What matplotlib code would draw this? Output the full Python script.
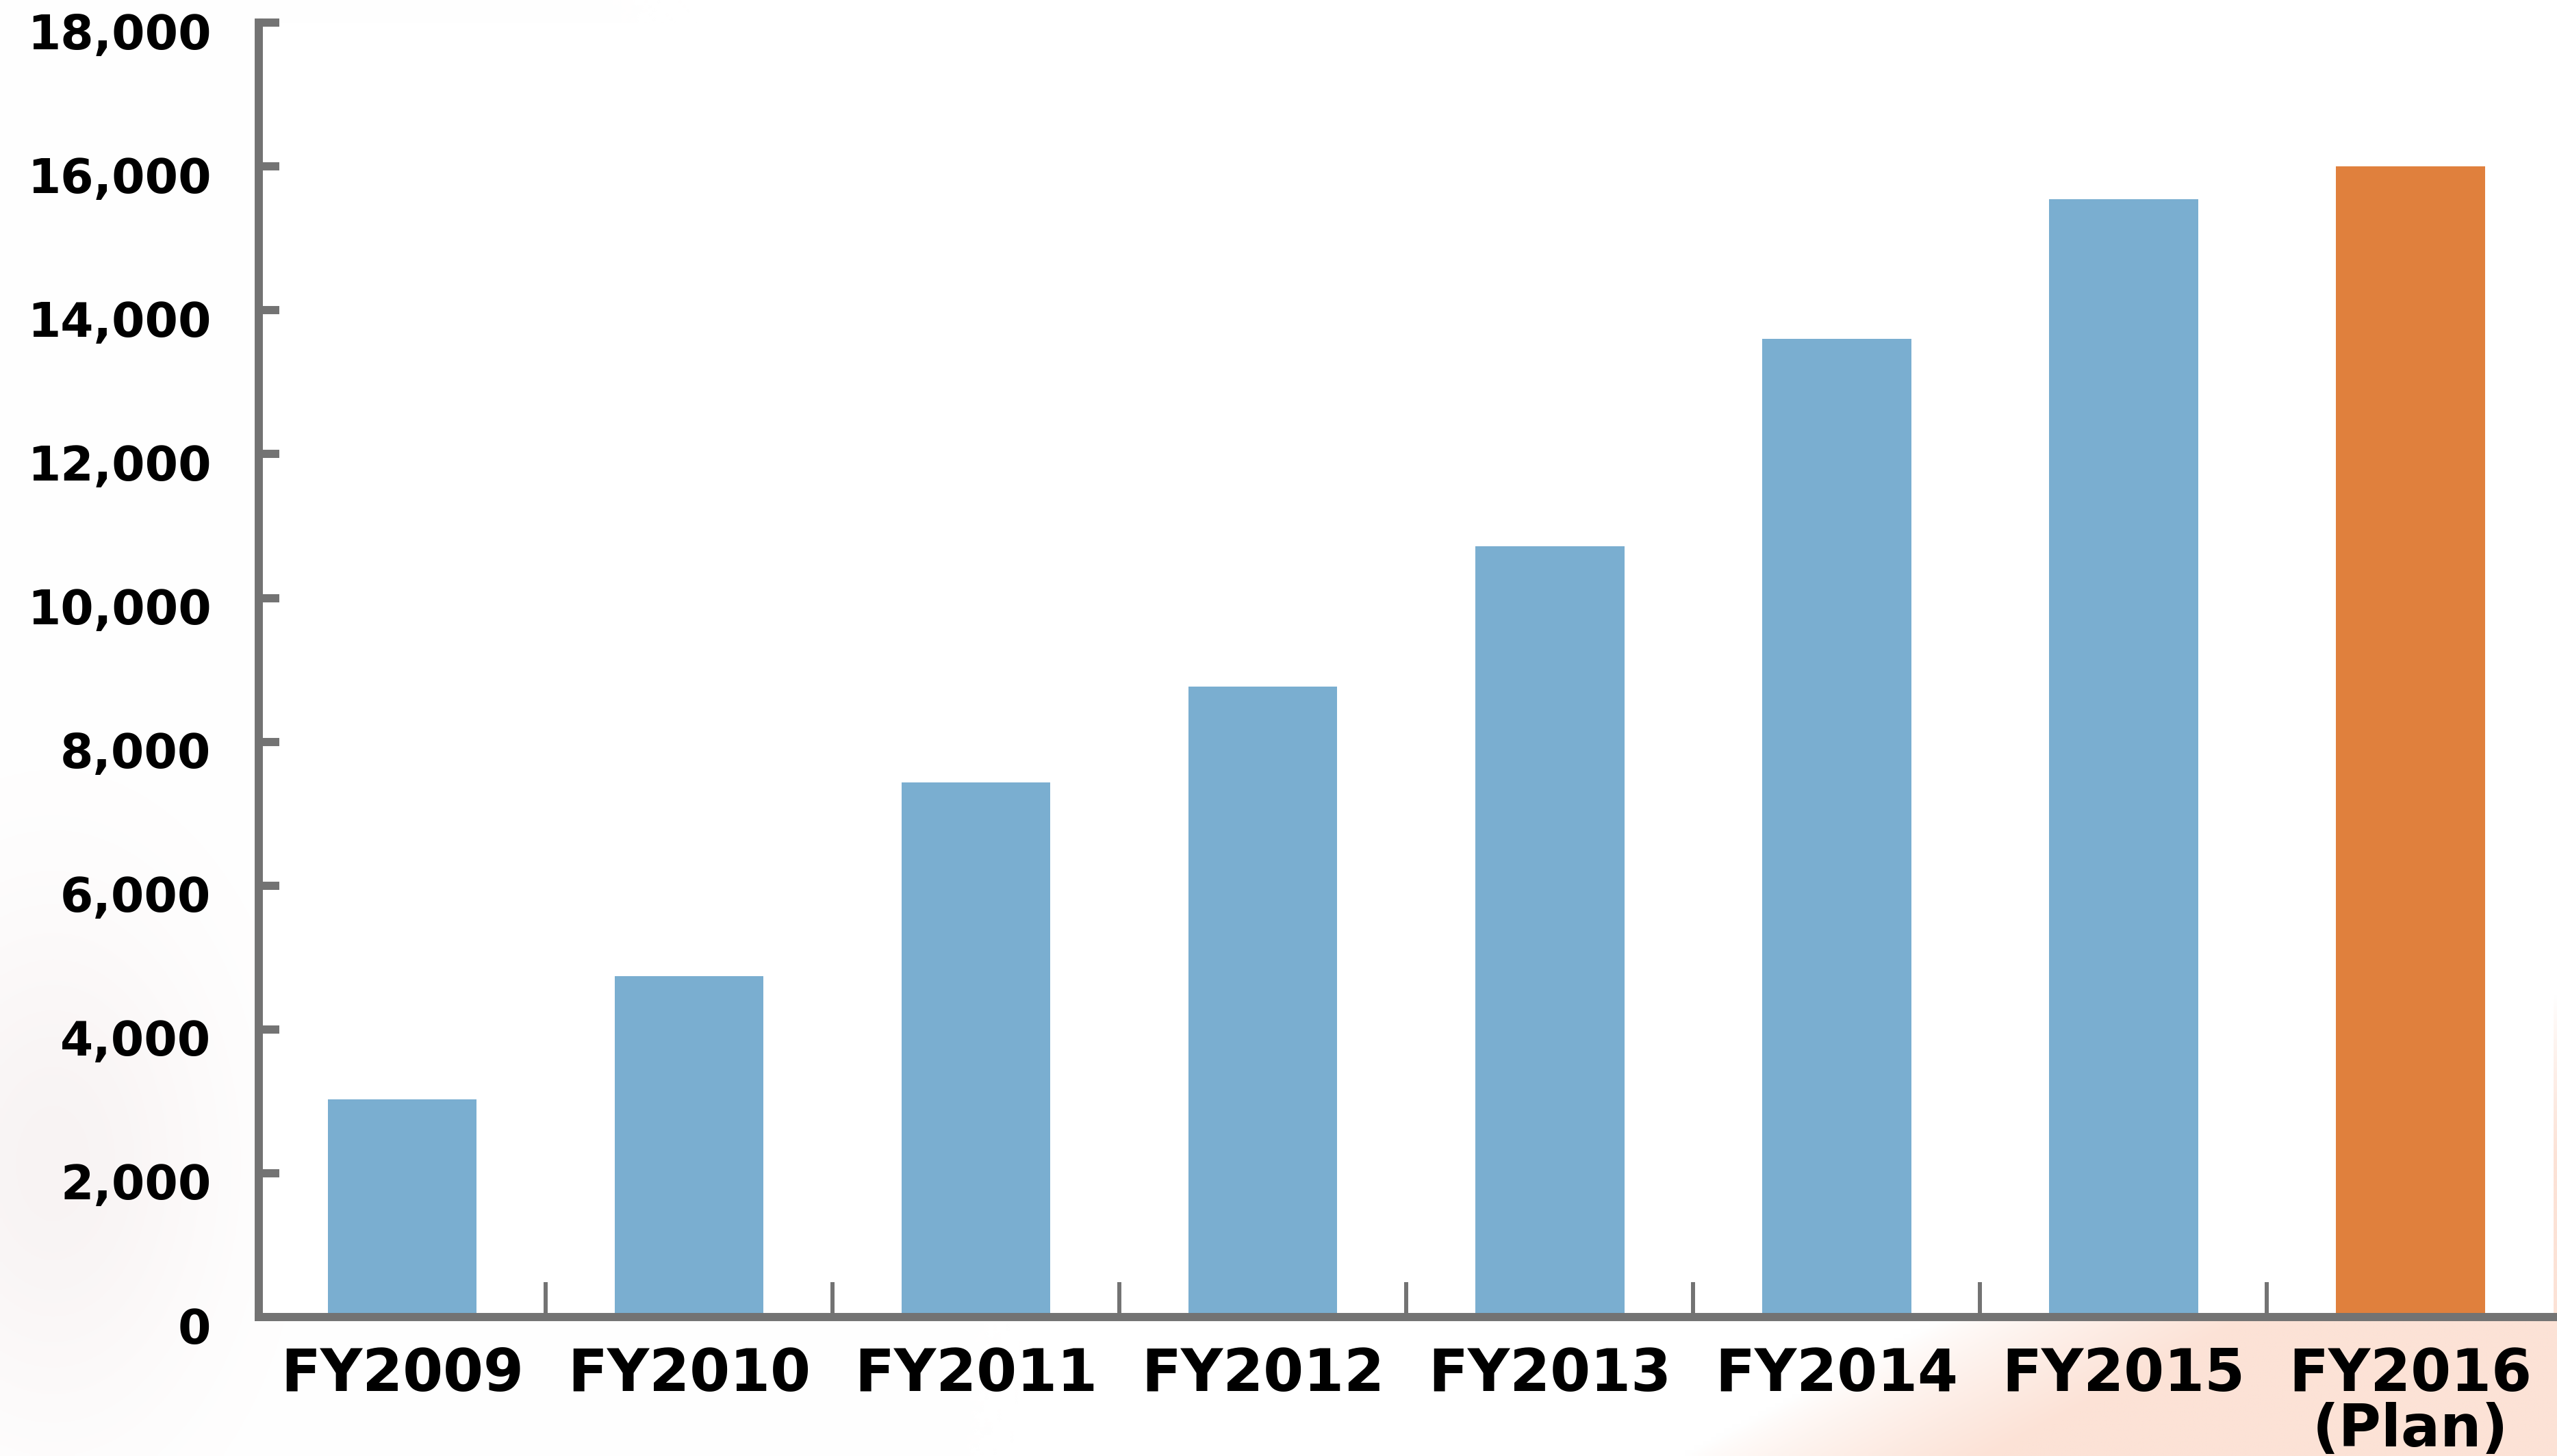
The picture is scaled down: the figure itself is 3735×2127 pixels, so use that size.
import numpy as np
import matplotlib.pyplot as plt
from matplotlib.ticker import FuncFormatter
from matplotlib.transforms import ScaledTranslation

# fiscal years and values
years = ['FY2009', 'FY2010', 'FY2011', 'FY2012', 'FY2013', 'FY2014', 'FY2015', 'FY2016\n(Plan)']
values = [3030, 4740, 7440, 8770, 10720, 13600, 15550, 16000]
y_ticks = list(range(0, 18001, 2000))

blue = '#7aaed0'
orange = '#e0803d'
gray = '#737373'
bar_colors = [blue] * 7 + [orange]

W, H, DPI = 3735, 2127, 100
fig = plt.figure(figsize=(W / DPI, H / DPI), dpi=DPI)
fig.patch.set_facecolor('white')

# soft pink wash behind the chart (bottom right band, faint blob bottom left)
bg = fig.add_axes([0, 0, 1, 1], zorder=-1)
u, v = np.meshgrid(np.linspace(0, 1, 600), np.linspace(1, 0, 340))
band = np.clip((u - 1.08 * v - 0.66) / 0.12, 0, 1) ** 0.8
blob = 0.4 * np.exp(-((u - 0.02) ** 2 / 0.004 + (v - 0.2) ** 2 / 0.03))
peach = np.array([252, 226, 214]) / 255.0
rose = np.array([238, 226, 226]) / 255.0
img = np.ones((340, 600, 3))
img = img * (1 - band[..., None]) + peach * band[..., None]
img = img * (1 - blob[..., None]) + rose * blob[..., None]
bg.imshow(img, extent=[0, 1, 0, 1], aspect='auto', interpolation='bilinear')
bg.axis('off')

ax = fig.add_axes([0.1012, 0.0954, 0.8975, 0.889])
ax.set_facecolor('white')
x = np.arange(len(years))
ax.bar(x, values, width=0.52, color=bar_colors, zorder=2)
ax.set_xlim(-0.5, 7.5)
ax.set_ylim(0, 18000)

ax.set_yticks(y_ticks)
ax.yaxis.set_major_formatter(FuncFormatter(lambda val, pos: f'{int(val):,}'))
ax.tick_params(axis='y', direction='in', length=21.6, width=8.6, color=gray,
               pad=50, labelsize=50)
shift = ScaledTranslation(0, -0.12, fig.dpi_scale_trans)
for lbl in ax.get_yticklabels():
    lbl.set_fontweight('bold')
    lbl.set_transform(lbl.get_transform() + shift)

ax.set_xticks(x)
ax.set_xticklabels(years, fontsize=61, fontweight='bold', linespacing=0.96)
ax.tick_params(axis='x', which='major', length=0, pad=31)
ax.set_xticks(x[:-1] + 0.5, minor=True)
ax.tick_params(axis='x', which='minor', direction='in', length=36.7, width=4.3, color=gray)

for side in ['top', 'right']:
    ax.spines[side].set_visible(False)
for side in ['left', 'bottom']:
    ax.spines[side].set_color(gray)
    ax.spines[side].set_linewidth(8.6)
    ax.spines[side].set_zorder(3)

fig.savefig('out.png', dpi=DPI)
